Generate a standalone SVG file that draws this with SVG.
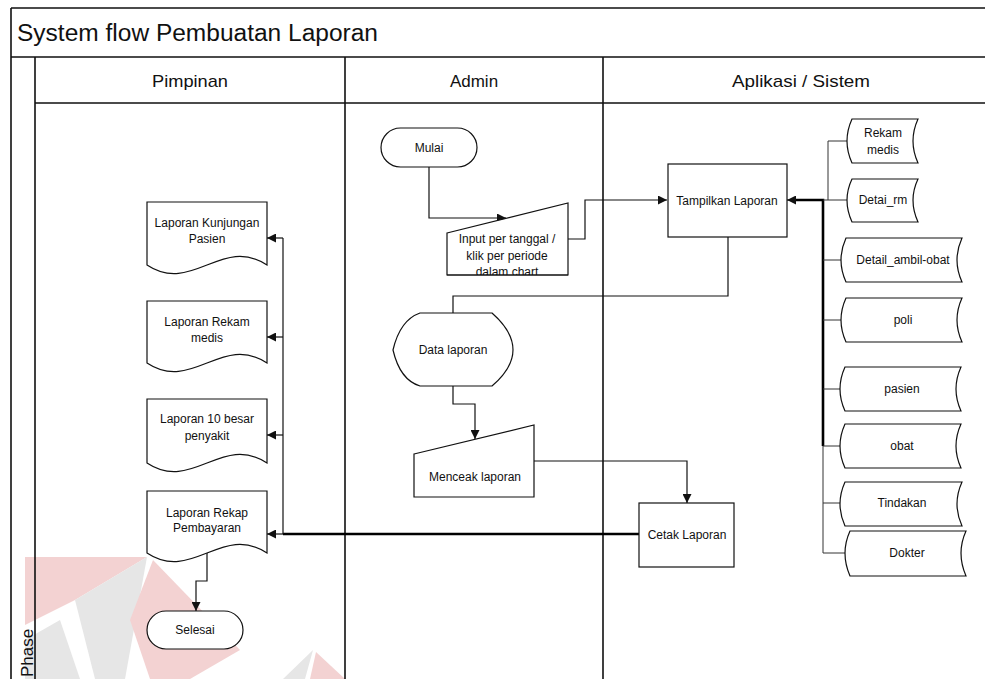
<svg xmlns="http://www.w3.org/2000/svg" width="985" height="679" viewBox="0 0 985 679">
  <style>
    .frame { fill: none; stroke: #111; stroke-width: 1.6; }
    .shape { fill: #fff; stroke: #111; stroke-width: 1.2; }
    .conn { fill: none; stroke: #111; stroke-width: 1.2; }
    .thin { fill: none; stroke: #333; stroke-width: 1; }
    .bold { fill: none; stroke: #000; stroke-width: 2.6; }
    .lbl { font-family: "Liberation Sans", Arial, sans-serif; font-size: 12px; fill: #111; text-anchor: middle; }
    .head { font-family: "Liberation Sans", Arial, sans-serif; font-size: 17px; fill: #111; text-anchor: middle; }
    .title { font-family: "Liberation Sans", Arial, sans-serif; font-size: 23px; fill: #111; }
    .wm-red { fill: #f3d2d2; }
    .wm-gray { fill: #e6e6e6; }
  </style>
  <defs>
    <marker id="arrow" viewBox="0 0 10 10" refX="10" refY="5" markerWidth="9" markerHeight="9" markerUnits="userSpaceOnUse" orient="auto">
      <path d="M0,0 L10,5 L0,10 Z" fill="#111"/>
    </marker>
    <clipPath id="clipInput">
      <path d="M447,233 L568,203 L568,275 L447,275 Z"/>
    </clipPath>
  </defs>

  <rect x="0" y="0" width="985" height="679" fill="#fff"/>

  <!-- faint background logo -->
  <g id="watermark">
    <polygon class="wm-red" points="25,557 147,557 75,600 25,625"/>
    <polygon class="wm-gray" points="147,557 75,600 95,679 125,679"/>
    <polygon class="wm-red" points="153,560 240,650 190,679 150,679 130,620"/>
    <polygon class="wm-gray" points="25,640 60,620 80,679 25,679"/>
    <polygon class="wm-gray" points="313,650 283,679 305,679"/>
    <polygon class="wm-red" points="316,652 345,679 310,679"/>
  </g>

  <!-- swimlane frame -->
  <g id="lanes">
    <path class="frame" d="M11,8 H985 M11,57 H985 M35,103 H985 M11,8 V679 M35,57 V679 M345,57 V679 M603,57 V679"/>
    <text class="title" x="17" y="41" textLength="361" lengthAdjust="spacingAndGlyphs">System flow Pembuatan Laporan</text>
    <text class="head" x="190" y="87" textLength="76" lengthAdjust="spacingAndGlyphs">Pimpinan</text>
    <text class="head" x="474" y="87">Admin</text>
    <text class="head" x="801" y="87" textLength="138" lengthAdjust="spacingAndGlyphs">Aplikasi / Sistem</text>
    <text class="head" transform="translate(33,677) rotate(-90)" style="text-anchor:start">Phase</text>
  </g>

  <!-- connectors -->
  <g id="connectors">
    <path class="conn" d="M429,167 V218 H506" marker-end="url(#arrow)"/>
    <path class="conn" d="M568,239 H585 V200 H667" marker-end="url(#arrow)"/>
    <path class="bold" d="M823,446 V200 H795"/>
    <path class="conn" d="M796,200 H787" marker-end="url(#arrow)"/>
    <path class="thin" d="M828,200 V141 H847 M823,200 H847 M823,260 H841 M823,320 H841 M823,389 H840 M823,446 H840 M823,503 H840 M823,446 V553 H845"/>
    <path class="conn" d="M728,237 V296 H453 V313"/>
    <path class="conn" d="M453,386 V404 H475 V439" marker-end="url(#arrow)"/>
    <path class="conn" d="M534,461 H687 V503" marker-end="url(#arrow)"/>
    <path class="bold" d="M639,534 H283"/>
    <path class="conn" d="M283,238 V534"/>
    <path class="conn" d="M283,238 H267" marker-end="url(#arrow)"/>
    <path class="conn" d="M283,337 H267" marker-end="url(#arrow)"/>
    <path class="conn" d="M283,435 H267" marker-end="url(#arrow)"/>
    <path class="conn" d="M283,534 H267" marker-end="url(#arrow)"/>
    <path class="conn" d="M207,553 V581 H196 V611" marker-end="url(#arrow)"/>
  </g>

  <!-- Pimpinan lane -->
  <g id="doc-kunjungan">
    <path class="shape" d="M147,202 H267 V265 C222,235 192,295 147,265 Z"/>
    <text class="lbl" x="207" y="227">Laporan Kunjungan</text>
    <text class="lbl" x="207" y="243">Pasien</text>
  </g>
  <g id="doc-rekam-medis">
    <path class="shape" d="M147,301 H267 V363 C222,333 192,393 147,363 Z"/>
    <text class="lbl" x="207" y="326">Laporan Rekam</text>
    <text class="lbl" x="207" y="342">medis</text>
  </g>
  <g id="doc-10-besar">
    <path class="shape" d="M147,399 H267 V463 C222,433 192,493 147,463 Z"/>
    <text class="lbl" x="207" y="423">Laporan 10 besar</text>
    <text class="lbl" x="207" y="440">penyakit</text>
  </g>
  <g id="doc-rekap-pembayaran">
    <path class="shape" d="M147,491 H267 V553 C222,523 192,583 147,553 Z"/>
    <text class="lbl" x="207" y="517">Laporan Rekap</text>
    <text class="lbl" x="207" y="532">Pembayaran</text>
  </g>
  <g id="selesai">
    <rect class="shape" x="147" y="611" width="96" height="38" rx="19"/>
    <text class="lbl" x="195" y="634">Selesai</text>
  </g>

  <!-- Admin lane -->
  <g id="mulai">
    <rect class="shape" x="381" y="128" width="96" height="39" rx="19.5"/>
    <text class="lbl" x="429" y="152">Mulai</text>
  </g>
  <g id="input-periode">
    <path class="shape" d="M447,233 L568,203 L568,275 L447,275 Z"/>
    <g clip-path="url(#clipInput)">
      <text class="lbl" x="507" y="243">Input per tanggal /</text>
      <text class="lbl" x="507" y="260">klik per periode</text>
      <text class="lbl" x="507" y="276">dalam chart</text>
    </g>
    <path class="shape" style="fill:none" d="M447,275 H568"/>
  </g>
  <g id="data-laporan">
    <path class="shape" d="M420,313 H492 Q534,350 492,386 H420 Q400,380 393,350 Q400,320 420,313 Z"/>
    <text class="lbl" x="453" y="354">Data laporan</text>
  </g>
  <g id="menceak-laporan">
    <path class="shape" d="M414,454 L534,425 L534,497 L414,497 Z"/>
    <text class="lbl" x="475" y="481">Menceak laporan</text>
  </g>

  <!-- Aplikasi / Sistem lane -->
  <g id="tampilkan-laporan">
    <rect class="shape" x="668" y="164" width="119" height="73"/>
    <text class="lbl" x="727" y="205">Tampilkan Laporan</text>
  </g>
  <g id="cetak-laporan">
    <rect class="shape" x="639" y="503" width="95" height="64"/>
    <text class="lbl" x="687" y="539">Cetak Laporan</text>
  </g>

  <!-- data stores -->
  <g id="db-rekam-medis">
    <path class="shape" d="M852,119 H918 Q908,141 918,163 H852 Q842,141 852,119 Z"/>
    <text class="lbl" x="883" y="137">Rekam</text>
    <text class="lbl" x="883" y="154">medis</text>
  </g>
  <g id="db-detai-rm">
    <path class="shape" d="M852,179 H918 Q908,200 918,222 H852 Q842,200 852,179 Z"/>
    <text class="lbl" x="883" y="204">Detai_rm</text>
  </g>
  <g id="db-detail-ambil-obat">
    <path class="shape" d="M846,238 H962 Q952,260 962,282 H846 Q836,260 846,238 Z"/>
    <text class="lbl" x="903" y="264">Detail_ambil-obat</text>
  </g>
  <g id="db-poli">
    <path class="shape" d="M846,298 H962 Q952,320 962,342 H846 Q836,320 846,298 Z"/>
    <text class="lbl" x="903" y="324">poli</text>
  </g>
  <g id="db-pasien">
    <path class="shape" d="M845,367 H961 Q951,389 961,411 H845 Q835,389 845,367 Z"/>
    <text class="lbl" x="902" y="393">pasien</text>
  </g>
  <g id="db-obat">
    <path class="shape" d="M845,424 H961 Q951,446 961,468 H845 Q835,446 845,424 Z"/>
    <text class="lbl" x="902" y="450">obat</text>
  </g>
  <g id="db-tindakan">
    <path class="shape" d="M845,482 H962 Q952,504 962,526 H845 Q835,504 845,482 Z"/>
    <text class="lbl" x="902" y="507">Tindakan</text>
  </g>
  <g id="db-dokter">
    <path class="shape" d="M850,531 H966 Q956,553 966,576 H850 Q840,553 850,531 Z"/>
    <text class="lbl" x="907" y="557">Dokter</text>
  </g>
</svg>
